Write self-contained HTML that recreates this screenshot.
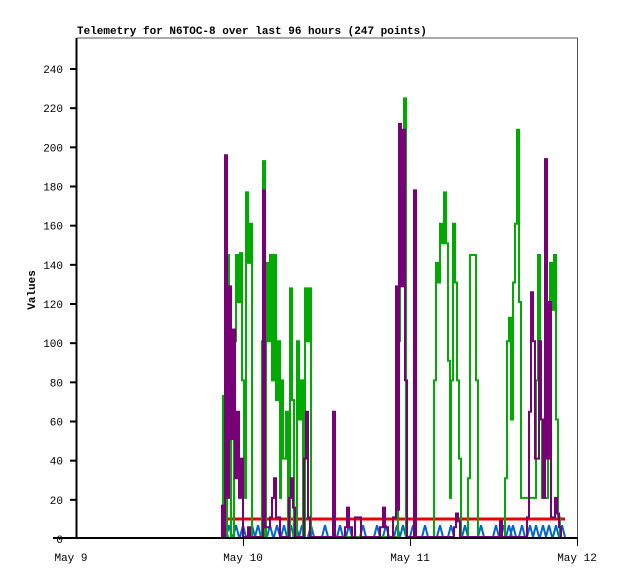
<!DOCTYPE html>
<html><head><meta charset="utf-8"><style>
html,body{margin:0;padding:0;background:#fff;}
svg{display:block;font-family:"Liberation Mono","DejaVu Sans Mono",monospace;}
</style></head><body>
<svg id="s" width="618" height="579" viewBox="0 0 618 579" xmlns="http://www.w3.org/2000/svg">
<rect width="618" height="579" fill="#fff"/>
<text x="77" y="34" font-size="11" font-weight="bold">Telemetry for N6TOC-8 over last 96 hours (247 points)</text>
<line x1="77" y1="38" x2="578" y2="38" stroke="#555" stroke-width="1"/>
<line x1="577.5" y1="38" x2="577.5" y2="538" stroke="#555" stroke-width="1"/>
<g id="yt" font-size="11" text-anchor="end"></g>
<text transform="translate(35,290) rotate(-90)" font-size="11" font-weight="bold" text-anchor="middle">Values</text>
<g font-size="11" text-anchor="middle">
<text x="71" y="561">May 9</text>
<text x="243" y="561">May 10</text>
<text x="410" y="561">May 11</text>
<text x="577" y="561">May 12</text>
</g>
<g id="data"></g>
<line x1="76.5" y1="38" x2="76.5" y2="539" stroke="#000" stroke-width="2"/>
<line x1="53" y1="538" x2="578" y2="538" stroke="#000" stroke-width="2"/>
<line x1="243.5" y1="538" x2="243.5" y2="546" stroke="#000"/>
<line x1="410.5" y1="538" x2="410.5" y2="546" stroke="#000"/>
<line x1="577.5" y1="538" x2="577.5" y2="546" stroke="#000"/>
</svg>
<script>
var NS="http://www.w3.org/2000/svg";
function Y(v){return 537-v*1.958;}
var yt=document.getElementById('yt');
for(var v=20;v<=240;v+=20){
 var y=539-v*1.9583;
 var t=document.createElementNS(NS,'text');t.setAttribute('x',63);t.setAttribute('y',y+4);t.textContent=v;yt.appendChild(t);
 var l=document.createElementNS(NS,'line');l.setAttribute('x1',70);l.setAttribute('x2',77);l.setAttribute('y1',y);l.setAttribute('y2',y);l.setAttribute('stroke','#000');l.setAttribute('stroke-width',2);yt.appendChild(l);
}
var t0=document.createElementNS(NS,'text');t0.setAttribute('x',63);t0.setAttribute('y',543);t0.textContent='0';yt.appendChild(t0);
var g=document.getElementById('data');
function step(pts,color,w){
 var d='M'+pts[0][0]+','+Y(pts[0][1]);
 for(var i=1;i<pts.length;i++){d+=' H'+pts[i][0]+' V'+Y(pts[i][1]);}
 var p=document.createElementNS(NS,'path');p.setAttribute('d',d);p.setAttribute('fill','none');
 p.setAttribute('stroke',color);p.setAttribute('stroke-width',w||2);g.appendChild(p);
}
var bd='';
var bx=[225,229,236,243,252,258,264,270,277,284,291,296,302,311,325,340,349,363,377,386,397,403,413,425,440,451,465,481,496,503,509,513,522,530,536,543,549,556,562];
bx.forEach(function(x){bd+='M'+(x-3)+',537 L'+x+','+Y(6)+' L'+(x+3)+',537 ';});
var bp=document.createElementNS(NS,'path');bp.setAttribute('d',bd);bp.setAttribute('fill','none');bp.setAttribute('stroke','#0066cc');bp.setAttribute('stroke-width',2);g.appendChild(bp);
var r=document.createElementNS(NS,'line');r.setAttribute('x1',222);r.setAttribute('x2',565);r.setAttribute('y1',519);r.setAttribute('y2',519);r.setAttribute('stroke','#ee0000');r.setAttribute('stroke-width',3);g.appendChild(r);
step([[222,0],[223,72],[225,0],[227,144],[229,60],[231,0],[234,100],[236,144],[238,120],[240,145],[242,80],[244,20],[246,176],[248,140],[250,160],[252,0],[256,0],[262,100],[263,192],[265,0],[266,140],[268,100],[270,144],[272,80],[274,144],[276,70],[278,100],[280,20],[281,80],[283,40],[286,64],[288,0],[290,127],[292,70],[294,0],[297,100],[299,60],[301,80],[303,0],[305,127],[307,100],[309,127],[311,0],[396,0],[398,100],[400,200],[402,160],[404,224],[406,0],[432,0],[434,80],[436,140],[438,130],[440,160],[442,150],[444,176],[446,150],[448,90],[450,20],[451,80],[453,160],[455,130],[457,80],[459,40],[461,0],[468,30],[470,144],[474,144],[476,80],[478,0],[505,30],[507,100],[509,112],[511,60],[513,130],[515,160],[517,208],[519,120],[521,20],[534,20],[536,80],[538,144],[540,60],[542,20],[548,120],[550,140],[552,116],[554,144],[556,60],[558,10],[560,0]],'#00aa00');
step([[221,0],[222,16],[224,0],[225,195],[227,20],[229,128],[231,50],[233,106],[235,30],[237,64],[239,20],[241,40],[243,0],[247,0],[248,5],[250,0],[262,0],[263,177],[265,5],[270,10],[272,20],[274,30],[276,10],[280,0],[288,0],[289,20],[291,30],[293,15],[295,0],[302,0],[304,40],[306,64],[308,10],[310,0],[330,0],[333,64],[335,0],[345,5],[347,15],[349,5],[352,0],[355,10],[359,10],[361,0],[380,5],[383,15],[385,5],[388,0],[393,10],[396,128],[398,14],[399,211],[401,128],[403,208],[405,80],[407,0],[413,0],[414,177],[416,0],[454,5],[456,12],[458,8],[460,0],[498,0],[500,8],[502,0],[527,10],[529,64],[531,125],[533,100],[535,40],[537,40],[539,100],[541,60],[543,20],[545,193],[547,40],[549,120],[551,10],[555,20],[557,12],[559,5],[561,0]],'#770077');
</script>
</body></html>
